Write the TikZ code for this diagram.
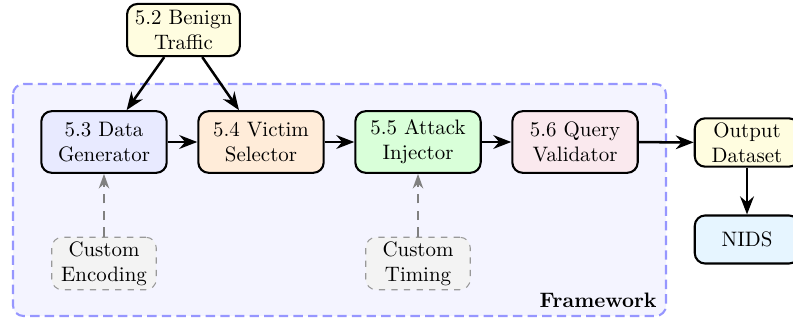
\documentclass[tikz,border=0pt]{standalone}
\usetikzlibrary{arrows.meta}
\definecolor{cBen}{RGB}{255,253,224}
\definecolor{cGen}{RGB}{232,234,255}
\definecolor{cVic}{RGB}{255,236,217}
\definecolor{cAtt}{RGB}{217,255,217}
\definecolor{cQue}{RGB}{250,233,238}
\definecolor{cOut}{RGB}{255,253,224}
\definecolor{cNid}{RGB}{230,245,255}
\definecolor{cFw}{RGB}{244,244,255}
\definecolor{cFwB}{RGB}{150,150,255}
\definecolor{cCus}{RGB}{243,243,243}
\begin{document}
\begin{tikzpicture}[x=0.4785pt,y=-0.4785pt,
  mainbox/.style={draw=black, line width=1pt, rounded corners=5pt, align=center,
    minimum width=60pt, minimum height=29.5pt, inner sep=2pt},
  sidebox/.style={draw=black, line width=1pt, rounded corners=5pt, align=center,
    minimum width=50pt, minimum height=23pt, inner sep=2pt},
  custbox/.style={draw=gray!80, dashed, line width=0.5pt, rounded corners=5pt, align=center,
    fill=cCus, minimum width=50pt, minimum height=25pt, inner sep=2pt},
  flow/.style={line width=1.2pt, -{Stealth[length=8.6pt,width=6.6pt]}},
  opt/.style={gray, line width=1pt, dash pattern=on 4.5pt off 3.5pt, -{Stealth[length=7pt,width=5pt]}}
]
\useasboundingbox (0,0) rectangle (793,322);
\draw[cFwB, fill=cFw, line width=1pt, dash pattern=on 4.5pt off 2.5pt, rounded corners=5pt]
  (13,84) rectangle (666,316);
\node[anchor=south east, font=\bfseries, inner sep=0pt] (fwl) at (657,308) {Framework};

\node[sidebox, fill=cBen, minimum width=54pt, minimum height=23pt, inner sep=3pt] (ben) at (183.5,30) {5.2 Benign\\Traffic};
\node[mainbox, fill=cGen] (gen) at (104,142) {5.3 Data\\Generator};
\node[mainbox, fill=cVic] (vic) at (261,142) {5.4 Victim\\Selector};
\node[mainbox, fill=cAtt] (att) at (418,142) {5.5 Attack\\Injector};
\node[mainbox, fill=cQue] (que) at (575,142) {5.6 Query\\Validator};
\node[sidebox, fill=cOut] (out) at (747,142.5) {Output\\Dataset};
\node[sidebox, fill=cNid] (nid) at (747,239.5) {NIDS};
\node[custbox] (enc) at (104,263.5) {Custom\\Encoding};
\node[custbox] (tim) at (418,263.5) {Custom\\Timing};

\draw[flow] (ben) -- (gen);
\draw[flow] (ben) -- (vic);
\draw[flow] (gen) -- (vic);
\draw[flow] (vic) -- (att);
\draw[flow] (att) -- (que);
\draw[flow] (que) -- (out);
\draw[flow] (out) -- (nid);
\draw[opt] (enc) -- (gen);
\draw[opt] (tim) -- (att);
\end{tikzpicture}
\end{document}
